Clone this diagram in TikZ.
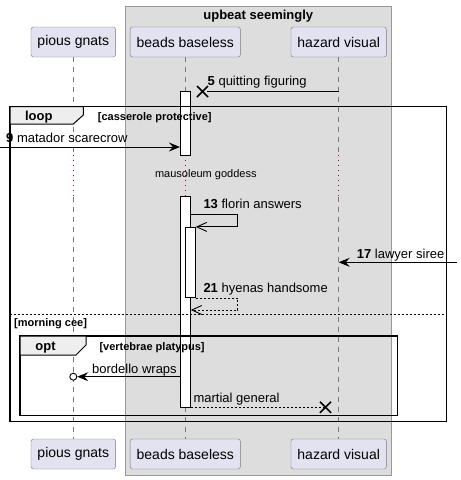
\documentclass[tikz,border=0pt]{standalone}
\usepackage{fontspec}
\setmainfont{Liberation Sans}
\usetikzlibrary{arrows.meta}
\definecolor{partfill}{HTML}{E2E2F0}
\definecolor{partline}{HTML}{7A7A7A}
\definecolor{grpfill}{HTML}{DDDDDD}
\definecolor{grpline}{HTML}{999999}
\definecolor{delayred}{HTML}{A80036}
\definecolor{tabfill}{HTML}{EEEEEE}
\begin{document}
\begin{tikzpicture}[x=1pt,y=-1pt,
  participant/.style={draw=partline,fill=partfill,rounded corners=2.5pt,minimum height=30pt,inner xsep=6.5pt,font=\fontsize{14}{16}\selectfont},
  lifeline/.style={draw=partline,dash pattern=on 5pt off 5pt,line width=0.6pt},
  delayline/.style={draw=delayred,dash pattern=on 1pt off 4pt,line width=0.8pt},
  actbar/.style={draw=black,fill=white,minimum width=10pt,inner sep=0pt,line width=0.8pt},
  msg/.style={draw=black,line width=0.9pt},
  filled/.style={-{Stealth[length=11pt,width=9pt,inset=4pt]}},
  barb/.style={-{Straight Barb[length=10pt,width=9pt]}},
  retmsg/.style={msg,dash pattern=on 2pt off 2pt},
  crossmark/.style={line width=1.6pt},
  lbl/.style={anchor=base west,inner sep=0pt,font=\fontsize{13}{15}\selectfont},
  frame/.style={draw=black,line width=1.5pt},
  tab/.style={draw=black,fill=tabfill,line width=1pt},
  keyword/.style={anchor=base,inner sep=0pt,font=\bfseries\fontsize{13}{15}\selectfont},
  guard/.style={anchor=base west,inner sep=0pt,font=\bfseries\fontsize{11}{13}\selectfont}]
  \useasboundingbox (0,0) rectangle (461,480);

  % box of the group
  \draw[draw=grpline,fill=grpfill] (125.3,6) rectangle (391.3,475);
  \node[keyword] (grptitle) at (258.3,19) {upbeat seemingly};

  % participants
  \node[participant] (pgT) at (73.3,42) {pious gnats};
  \node[participant] (bbT) at (185.3,42) {beads baseless};
  \node[participant] (hvT) at (338.7,42) {hazard visual};
  \node[participant] (pgB) at (73.3,454) {pious gnats};
  \node[participant] (bbB) at (185.3,454) {beads baseless};
  \node[participant] (hvB) at (338.7,454) {hazard visual};

  % lifelines with the delay
  \coordinate (d1) at (0,155.3);
  \coordinate (d2) at (0,196.7);
  \foreach \p in {pg,bb,hv}{
    \draw[lifeline] (\p T) -- (\p T |- d1);
    \draw[delayline] (\p T |- d1) -- (\p T |- d2);
    \draw[lifeline] (\p T |- d2) -- (\p B);
  }
  \node[anchor=base,inner sep=0pt,font=\fontsize{11}{13}\selectfont] (delay) at (205.8,177.7) {mausoleum goddess};

  % activation bars
  \node[actbar,minimum height=64pt] (act1) at (185.3,123.3) {};
  \node[actbar,minimum height=210.6pt] (act2) at (185.3,302) {};
  \node[actbar,minimum height=70.4pt] (act3) at (190.3,262.5) {};

  % frames
  \coordinate (loopNW) at (10,106.7);
  \coordinate (loopSE) at (446.7,421.7);
  \draw[frame] (loopNW) rectangle (loopSE);
  \draw[tab] (loopNW) -- (83.3,106.7) -- (83.3,115) -- (73.3,124) -- (10,124) -- cycle;
  \node[keyword] (looplbl) at (38.8,120) {loop};
  \node[guard] (loopguard) at (97.7,120) {[casserole protective]};
  \coordinate (elseY) at (0,314.3);
  \draw[draw=black,line width=0.8pt,dash pattern=on 2pt off 2pt] (loopNW |- elseY) -- (loopSE |- elseY);
  \node[guard] (elseguard) at (14,326) {[morning cee]};

  \coordinate (optNW) at (20,336);
  \coordinate (optSE) at (397.7,415.7);
  \draw[frame] (optNW) rectangle (optSE);
  \draw[tab] (optNW) -- (86,336) -- (86,345) -- (76,355) -- (20,355) -- cycle;
  \node[keyword] (optlbl) at (45.5,350) {opt};
  \node[guard] (optguard) at (99.3,350) {[vertebrae platypus]};

  % messages
  \coordinate (x5) at (202.5,91.5);
  \draw[msg] (hvT |- x5) -- ([xshift=4pt]x5);
  \draw[crossmark] ([shift={(-5.5,-5.5)}]x5) -- ([shift={(5.5,5.5)}]x5)
                   ([shift={(-5.5,5.5)}]x5) -- ([shift={(5.5,-5.5)}]x5);
  \node[lbl] (l5) at (207.5,85.3) {\textbf{5} quitting figuring};

  \coordinate (s9) at (0,147);
  \draw[msg,filled] (s9) -- (s9 -| act1.west);
  \node[lbl] (l9) at (6,142) {\textbf{9} matador scarecrow};

  \coordinate (y13) at (0,214.3);
  \draw[msg,barb] (act2.east |- y13) -- ++(47,0) |- (act3.north east);
  \node[lbl] (l13) at (203.3,208.7) {\textbf{13} florin answers};

  \coordinate (s17) at (456.7,262.3);
  \draw[msg,filled] (s17) -- (s17 -| hvT);
  \node[lbl] (l17) at (356.7,258.3) {\textbf{17} lawyer siree};

  \coordinate (y21) at (0,310);
  \draw[retmsg,barb] (act3.south east) -- ++(42,0) |- (act2.east |- y21);
  \node[lbl] (l21) at (203.3,292.7) {\textbf{21} hyenas handsome};

  \coordinate (ob) at (73.3,376.7);
  \draw[msg,filled] (act2.west |- ob) -- ([xshift=4pt]ob);
  \draw[draw=black,fill=white,line width=0.9pt] (ob) circle (3.5pt);
  \node[lbl] (lb) at (92,373.3) {bordello wraps};

  \coordinate (x23) at (325.5,407.3);
  \draw[retmsg] (act2.east |- x23) -- (x23);
  \draw[crossmark] ([shift={(-5.5,-5.5)}]x23) -- ([shift={(5.5,5.5)}]x23)
                   ([shift={(-5.5,5.5)}]x23) -- ([shift={(5.5,-5.5)}]x23);
  \node[lbl] (lm) at (193.3,402.7) {martial general};
\end{tikzpicture}
\end{document}
